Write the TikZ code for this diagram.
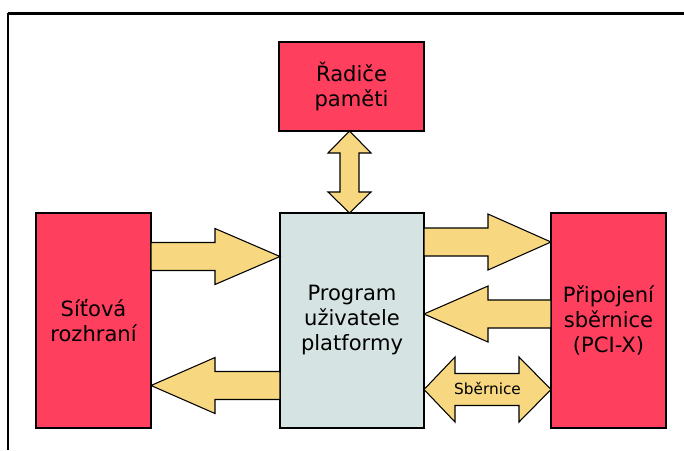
\documentclass[tikz,border=0pt]{standalone}
\usepackage{fontspec}
\setmainfont{DejaVu Sans}
\definecolor{blockred}{HTML}{FF3F5E}
\definecolor{blockgrey}{HTML}{D6E3E3}
\definecolor{arrowfill}{HTML}{F7D77F}
\tikzset{
  box/.style={draw=black, line width=0.8pt, align=center, inner sep=0pt,
    font=\fontsize{15.8}{18.75}\selectfont},
  redbox/.style={box, fill=blockred},
  greybox/.style={box, fill=blockgrey},
  blockarrow/.style={draw=black, fill=arrowfill, line width=0.8pt, line join=miter},
}
\begin{document}
\begin{tikzpicture}[x=0.75pt,y=-0.75pt]
  \useasboundingbox (0,0) rectangle (684,450);
  % frame
  \draw[line width=1.6pt] (7.5,13.5) -- (684,13.5);
  \draw[line width=1.1pt] (8,13) -- (8,450);

  % blocks
  \node[redbox, minimum width=86.25pt, minimum height=161.25pt] (net) at (93.5,320.5) {Síťová\\rozhraní};
  \node[greybox, minimum width=108pt, minimum height=161.25pt] (prog) at (352,320.5) {Program\\uživatele\\platformy};
  \node[redbox, minimum width=108.75pt, minimum height=66.75pt] (mem) at (351.5,86.5) {Řadiče\\paměti};
  \node[redbox, minimum width=86.25pt, minimum height=161.25pt] (bus) at (608.5,320.5) {Připojení\\sběrnice\\(PCI-X)};

  % network -> program
  \draw[blockarrow] (151,242.5) -- (215,242.5) -- (215,228.5) -- (280,256.5)
    -- (215,284.5) -- (215,270.5) -- (151,270.5) -- cycle;
  % program -> network
  \draw[blockarrow] (280,371.5) -- (215,371.5) -- (215,357.5) -- (151,385.5)
    -- (215,413.5) -- (215,399.5) -- (280,399.5) -- cycle;
  % program -> bus attachment
  \draw[blockarrow] (424,228) -- (488,228) -- (488,214) -- (551,242)
    -- (488,270) -- (488,256) -- (424,256) -- cycle;
  % bus attachment -> program
  \draw[blockarrow] (551,300) -- (488,300) -- (488,286) -- (424,314)
    -- (488,342) -- (488,328) -- (551,328) -- cycle;
  % memory <-> program
  \draw[blockarrow] (349.5,131) -- (371,153) -- (359,153) -- (359,192) -- (371,192)
    -- (349.5,213) -- (328,192) -- (340,192) -- (340,153) -- (328,153) -- cycle;
  % bus <-> program
  \draw[blockarrow] (424,389.5) -- (455,357) -- (455,373.5) -- (519,373.5) -- (519,357)
    -- (551,389.5) -- (519,422) -- (519,405.5) -- (455,405.5) -- (455,422) -- cycle;
  \node[font=\fontsize{11.5}{14}\selectfont] (sb) at (487.5,388.5) {Sběrnice};
\end{tikzpicture}
\end{document}
